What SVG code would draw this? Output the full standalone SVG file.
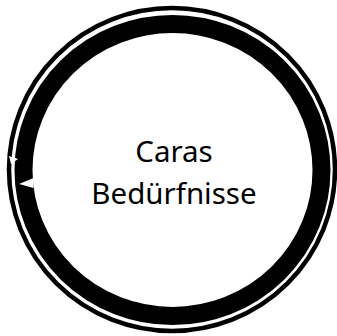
<svg xmlns="http://www.w3.org/2000/svg" width="337" height="336" viewBox="0 0 337 336">
  <style>
    .ring { fill: none; stroke: #000; }
    .label { font-family: "Noto Sans", "Open Sans", sans-serif; font-size: 29.5px; fill: #000; text-anchor: middle; }
    .cut { fill: #fff; stroke: none; }
  </style>
  <rect width="337" height="336" fill="#fff"/>
  <g id="connectors">
    <ellipse class="ring" cx="172" cy="169.5" rx="163" ry="161.5" stroke-width="4.5"/>
  </g>
  <g id="node-caras">
    <ellipse class="ring" cx="172.5" cy="170" rx="149" ry="146" stroke-width="18"/>
    <polygon class="cut" points="33.5,178 19,184 33.5,188"/>
    <polygon class="cut" points="9,156 18,159 11,164"/>
    <text class="label" x="174" y="162">Caras</text>
    <text class="label" x="174" y="204">Bedürfnisse</text>
  </g>
</svg>
